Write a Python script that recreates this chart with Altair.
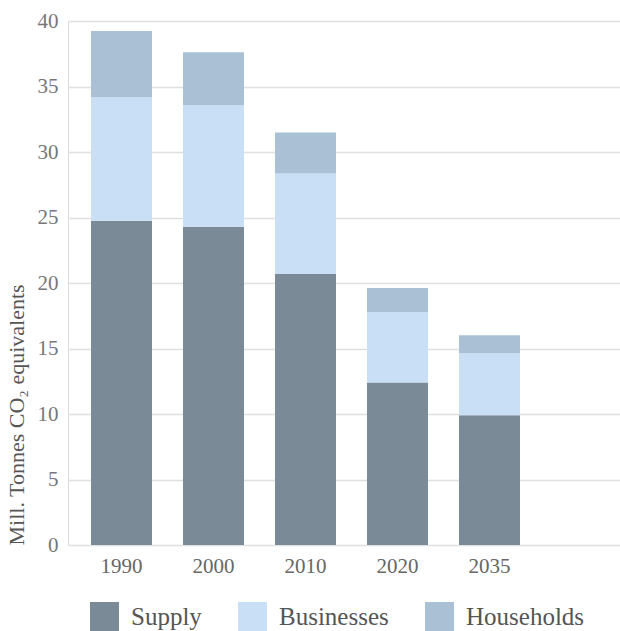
import altair as alt
import pandas as pd

# Emissions by sector, million tonnes CO2 equivalents
years = ["1990", "2000", "2010", "2020", "2035"]
supply = [24.75, 24.29, 20.69, 12.41, 9.91]
businesses = [9.43, 9.27, 7.66, 5.37, 4.73]
households = [5.05, 4.06, 3.14, 1.84, 1.38]

sectors = ["Supply", "Businesses", "Households"]
colors = ["#7b8a97", "#c8dff5", "#aac0d5"]

rows = []
for i, y in enumerate(years):
    for k, (name, vals) in enumerate(zip(sectors, [supply, businesses, households])):
        rows.append({"year": y, "sector": name, "value": vals[i], "order": k})
df = pd.DataFrame(rows)

FONT = "Liberation Serif"

chart = (
    alt.Chart(df)
    .mark_bar()
    .encode(
        x=alt.X(
            "year:N",
            sort=years,
            scale=alt.Scale(domain=years, paddingInner=0.337, paddingOuter=0.6685, align=0.187),
            axis=alt.Axis(
                title=None, labelAngle=0, ticks=False, domain=False, grid=False,
                labelFontSize=21, labelColor="#666666", labelPadding=10, labelFont=FONT,
            ),
        ),
        y=alt.Y(
            "value:Q",
            stack="zero",
            scale=alt.Scale(domain=[0, 40], nice=False),
            axis=alt.Axis(
                title="Mill. Tonnes CO₂ equivalents",
                values=[0, 5, 10, 15, 20, 25, 30, 35, 40],
                ticks=False, domain=False, grid=True,
                gridColor="#e0e0e0", gridWidth=1.5,
                labelFontSize=21, labelColor="#777777", labelPadding=10, labelFont=FONT,
                titleFont=FONT, titleFontSize=22, titleFontWeight="normal", titleColor="#555555",
                titleAngle=270, titleAlign="left", titleBaseline="middle",
                titleX=-52, titleY=524,
            ),
        ),
        color=alt.Color(
            "sector:N",
            sort=sectors,
            scale=alt.Scale(domain=sectors, range=colors),
            legend=alt.Legend(
                title=None, orient="none", legendX=22, legendY=581,
                direction="horizontal", symbolType="square", symbolSize=841,
                symbolStrokeWidth=0, labelFontSize=25, labelFont=FONT,
                labelColor="#555555", labelOffset=12, columnPadding=36,
            ),
        ),
        order=alt.Order("order:Q", sort="ascending"),
    )
    .properties(
        width=552,
        height=524,
        autosize=alt.AutoSizeParams(type="none"),
        padding={"left": 68, "top": 21, "right": 0, "bottom": 86},
    )
    .configure_view(stroke=None)
    .configure(background="white")
)

chart.save("out.html", embed_options={"renderer": "svg", "actions": False})
